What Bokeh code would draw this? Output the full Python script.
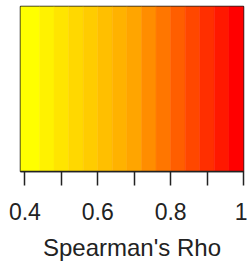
from bokeh.plotting import figure
from bokeh.models import Range1d, FixedTicker, ColumnDataSource
from bokeh.embed import file_html
from bokeh.resources import INLINE

# Data: colour-band breaks along Spearman's Rho
band_breaks = [0.388, 0.44, 0.48, 0.52, 0.56, 0.60, 0.64, 0.68, 0.72,
               0.76, 0.80, 0.84, 0.88, 0.92, 0.96, 1.00]
band_colors = ["#FFFF00", "#FFF200", "#FFE500", "#FFD800", "#FFCC00",
               "#FFBF00", "#FFB200", "#FFA500", "#FF8D00", "#FF7600",
               "#FF5E00", "#FF4700", "#FF2F00", "#FF1800", "#FF0000"]
major_ticks = [0.4, 0.6, 0.8, 1.0]
minor_ticks = [0.5, 0.7, 0.9]
tick_labels = {0.4: "0.4", 0.6: "0.6", 0.8: "0.8", 1.0: "1"}
x_title = "Spearman's Rho"

src = ColumnDataSource(dict(
    left=band_breaks[:-1], right=band_breaks[1:], color=band_colors))

p = figure(width=247, height=267, output_backend="svg", toolbar_location=None,
           x_range=Range1d(band_breaks[0], band_breaks[-1]), y_range=Range1d(0, 1),
           min_border_left=20, min_border_right=4, min_border_top=6,
           min_border_bottom=96)

p.quad(left="left", right="right", bottom=0, top=1, source=src,
       fill_color="color", line_color="color", line_width=0.5)

p.yaxis.visible = False
p.xgrid.visible = False
p.ygrid.visible = False
p.outline_line_color = "#222222"
p.outline_line_width = 1.5

ax = p.xaxis[0]
ax.ticker = FixedTicker(ticks=major_ticks, minor_ticks=minor_ticks)
ax.major_label_overrides = tick_labels
ax.axis_line_color = "#222222"
ax.axis_line_width = 1.5
ax.major_tick_in = 0
ax.major_tick_out = 14
ax.minor_tick_in = 0
ax.minor_tick_out = 14
ax.major_tick_line_width = 1.5
ax.minor_tick_line_width = 1.5
ax.major_tick_line_color = "#222222"
ax.minor_tick_line_color = "#222222"
ax.major_label_text_font = "Liberation Sans"
ax.major_label_text_font_size = "23px"
ax.major_label_text_color = "#222222"
ax.major_label_standoff = 17
ax.axis_label = x_title
ax.axis_label_text_font = "Liberation Sans"
ax.axis_label_text_font_size = "24px"
ax.axis_label_text_font_style = "normal"
ax.axis_label_text_color = "#222222"
ax.axis_label_standoff = 11

open("out.html", "w").write(file_html(p, INLINE))
